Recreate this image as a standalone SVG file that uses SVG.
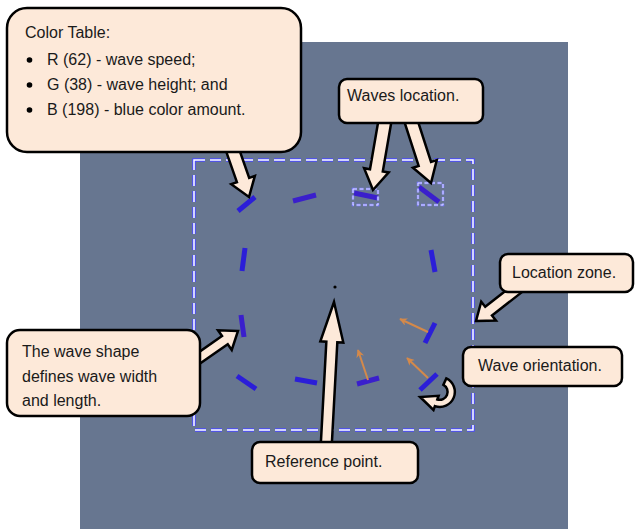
<svg xmlns="http://www.w3.org/2000/svg" width="635" height="529" viewBox="0 0 635 529">
<defs>
<style>
.box{fill:#FDE9D9;stroke:#000;stroke-width:2.5}
.arr{fill:#FDE9D9;stroke:#000;stroke-width:2.5;stroke-linejoin:miter}
.t{font-family:"Liberation Sans",Arial,sans-serif;font-size:16px;fill:#1a1a1a}
.w{stroke:#3A1FCC;stroke-width:5;fill:none}
.w2{stroke:#2B1ED8;stroke-width:5;fill:none}
.o{stroke:#D4894A;stroke-width:2;fill:none;marker-end:url(#oh)}
.zb{fill:none;stroke:#4a4aff;stroke-width:3.5;stroke-dasharray:11 5}
.zw{fill:none;stroke:#fff;stroke-width:1.5;stroke-dasharray:11 5}
.sb{fill:none;stroke:#7a7aff;stroke-width:2.4;stroke-dasharray:4 2.5}
.sw{fill:none;stroke:#e8e8ff;stroke-width:0.9;stroke-dasharray:4 2.5}
</style>
<marker id="oh" viewBox="0 0 10 10" refX="9" refY="5" markerWidth="8" markerHeight="8" orient="auto" markerUnits="userSpaceOnUse">
<path d="M0,0 L10,5 L0,10 L3,5 Z" fill="#D4894A"/>
</marker>
</defs>
<rect x="80" y="42" width="488" height="487" fill="#677690"/>
<g id="zone">
<rect class="zb" x="194" y="160" width="279" height="270"/>
<rect class="zw" x="194" y="160" width="279" height="270"/>
</g>
<g id="waves">
<line class="w2" x1="238" y1="211" x2="255" y2="197"/>
<line class="w" x1="293" y1="201" x2="316" y2="195"/>
<line class="w" x1="354" y1="193" x2="378" y2="198"/>
<line class="w" x1="419" y1="187" x2="439" y2="202"/>
<line class="w2" x1="245" y1="248" x2="242" y2="271"/>
<line class="w2" x1="431" y1="250" x2="435" y2="272"/>
<line class="w" x1="241" y1="315" x2="244" y2="337"/>
<line class="w2" x1="237" y1="376" x2="256" y2="389"/>
<line class="w2" x1="295" y1="379" x2="317" y2="383"/>
<line class="w" x1="357" y1="384" x2="379" y2="378"/>
<line class="w2" x1="435" y1="323" x2="425" y2="343"/>
<line class="w2" x1="437" y1="374" x2="420" y2="390"/>
</g>
<g id="wave-boxes">
<rect class="sb" x="353" y="189" width="25" height="16"/>
<rect class="sw" x="353" y="189" width="25" height="16"/>
<rect class="sb" x="418" y="183" width="25" height="22"/>
<rect class="sw" x="418" y="183" width="25" height="22"/>
</g>
<g id="orientation-arrows">
<line class="o" x1="368" y1="380" x2="358" y2="350"/>
<line class="o" x1="428" y1="332" x2="400" y2="319"/>
<line class="o" x1="428" y1="378" x2="407" y2="358"/>
</g>
<circle id="reference-point" cx="335" cy="287" r="1.6" fill="#000"/>
<g id="connectors">
<polygon class="arr" transform="translate(249,197) rotate(70.7)" points="0,0 -18,-12.5 -18,-6.5 -62,-6.5 -62,6.5 -18,6.5 -18,12.5"/>
<polygon class="arr" transform="translate(373,190) rotate(99.8)" points="0,0 -20,-12.5 -20,-6.5 -76,-6.5 -76,6.5 -20,6.5 -20,12.5"/>
<polygon class="arr" transform="translate(431,183) rotate(72.1)" points="0,0 -20,-12.5 -20,-6.5 -71,-6.5 -71,6.5 -20,6.5 -20,12.5"/>
<polygon class="arr" transform="translate(476,321) rotate(142)" points="0,0 -16,-12 -16,-5.5 -58,-5.5 -58,5.5 -16,5.5 -16,12"/>
<polygon class="arr" transform="translate(238,331) rotate(-34.9)" points="0,0 -16,-12 -16,-5 -52,-5 -52,5 -16,5 -16,12"/>
<polygon class="arr" transform="translate(334,302) rotate(-86.9)" points="0,0 -40,-11.5 -40,-5.5 -152,-5.5 -152,5.5 -40,5.5 -40,11.5"/>
<path class="arr" d="M446.3,378.4 A15 15 0 0 1 434.9,406.1 L433.5,409.9 L420.1,397 L438.6,395.8 L437.3,399.5 A8 8 0 0 0 443.4,384.8 Z"/>
</g>
<g id="color-table">
<rect class="box" x="7" y="8" width="294" height="144" rx="20"/>
<text class="t" x="25" y="38">Color Table:</text>
<circle cx="29.5" cy="60" r="2.8" fill="#000"/>
<circle cx="29.5" cy="85" r="2.8" fill="#000"/>
<circle cx="29.5" cy="110" r="2.8" fill="#000"/>
<text class="t" x="47" y="65">R (62) - wave speed;</text>
<text class="t" x="47" y="90">G (38) - wave height; and</text>
<text class="t" x="47" y="115">B (198) - blue color amount.</text>
</g>
<g id="waves-location">
<rect class="box" x="339" y="79" width="144" height="44" rx="8"/>
<text class="t" x="347" y="101">Waves location.</text>
</g>
<g id="location-zone">
<rect class="box" x="500" y="254" width="133" height="38" rx="8"/>
<text class="t" x="512" y="278">Location zone.</text>
</g>
<g id="wave-orientation">
<rect class="box" x="463" y="347" width="159" height="39" rx="8"/>
<text class="t" x="478" y="371">Wave orientation.</text>
</g>
<g id="wave-shape">
<rect class="box" x="7" y="330" width="193" height="86" rx="13"/>
<text class="t" x="22" y="357">The wave shape</text>
<text class="t" x="22" y="382">defines wave width</text>
<text class="t" x="22" y="406">and length.</text>
</g>
<g id="reference">
<rect class="box" x="252" y="442" width="166" height="41" rx="8"/>
<text class="t" x="265" y="467">Reference point.</text>
</g>
</svg>
